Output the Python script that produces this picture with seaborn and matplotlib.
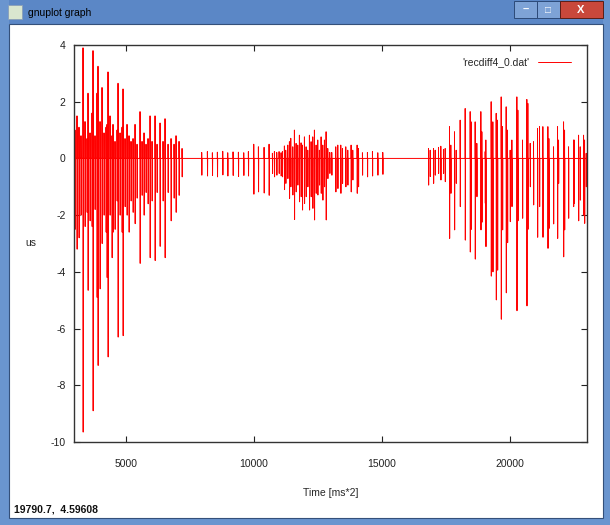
import matplotlib
matplotlib.use("Agg")
import matplotlib.pyplot as plt
from matplotlib.patches import Rectangle
import pandas as pd
import seaborn as sns

# --- spike events: time, positive peak, negative peak ---
burst1_t = [3009, 3087, 3165, 3243, 3322, 3400, 3478, 3517, 3595, 3673, 3712, 3790, 3868, 3907,
            3986, 4064, 4142, 4220, 4259, 4298, 4376, 4454, 4493, 4571, 4650, 4689, 4767, 4845,
            4884, 4962, 5040, 5118, 5196, 5275, 5353, 5431, 5548, 5626, 5704, 5782, 5860, 5939,
            6017, 6134, 6212, 6329, 6446, 6524, 6642, 6759, 6876, 6954, 7071, 7189]
burst1_up = [1.0, 1.5, 1.1, 0.8, 3.9, 1.3, 0.7, 2.3, 0.9, 1.6, 3.8, 0.8, 2.3, 3.25,
             1.3, 2.5, 0.9, 1.1, 1.2, 3.05, 1.5, 0.8, 1.2, 0.6, 1.0, 2.65, 0.9, 1.1,
             2.45, 0.7, 1.2, 0.8, 0.6, 0.7, 1.2, 0.5, 1.65, 0.6, 0.9, 0.5, 0.7, 1.5,
             0.6, 1.5, 0.5, 1.25, 0.6, 1.4, 0.5, 0.7, 0.5, 0.8, 0.6, 0.35]
burst1_dn = [-2.5, -3.2, -2.8, -2.0, -9.65, -2.4, -1.9, -4.65, -2.2, -2.4, -8.9, -1.8, -4.9, -7.3,
             -4.6, -3.0, -2.0, -2.6, -4.2, -7.0, -2.0, -3.5, -2.6, -2.5, -1.5, -6.3, -2.0, -2.6,
             -6.25, -1.7, -2.0, -2.6, -1.5, -1.9, -2.3, -1.4, -3.7, -1.3, -2.0, -1.2, -1.6, -3.5,
             -1.5, -3.6, -1.2, -3.1, -1.5, -3.5, -1.2, -2.2, -1.4, -1.9, -1.3, -0.65]

burst2_t = [7956, 8178, 8373, 8568, 8777, 8972, 9180, 9389, 9597, 9779, 9988, 10170, 10391, 10586,
            10717, 10795, 10886, 10977, 11055, 11107, 11185, 11237, 11316, 11381, 11433, 11511,
            11576, 11641, 11706, 11771, 11836, 11888, 11967, 12032, 12097, 12162, 12227, 12292,
            12357, 12422, 12487, 12552, 12618, 12683, 12748, 12813, 12878, 12956, 13034, 13190,
            13269, 13386, 13451, 13581, 13659, 13789, 13854, 14024, 14076, 14232, 14427, 14623,
            14831, 15026]
burst2_up = [0.21, 0.24, 0.2, 0.22, 0.25, 0.2, 0.23, 0.22, 0.2, 0.24, 0.5, 0.41, 0.39, 0.5,
             0.18, 0.24, 0.21, 0.24, 0.2, 0.24, 0.44, 0.29, 0.47, 0.59, 0.71, 0.41,
             1.0, 0.53, 0.47, 0.82, 0.55, 0.47, 0.76, 0.41, 0.29, 0.82, 0.59, 0.76,
             1.0, 0.47, 0.65, 0.29, 0.76, 0.47, 0.65, 0.94, 0.35, 0.21, 0.21, 0.41,
             0.47, 0.47, 0.35, 0.41, 0.29, 0.47, 0.29, 0.47, 0.35, 0.2, 0.21, 0.24,
             0.2, 0.21]
burst2_dn = [-0.59, -0.62, -0.6, -0.65, -0.58, -0.62, -0.6, -0.64, -0.6, -0.62, -1.26, -1.18, -1.22, -1.3,
             -0.53, -0.65, -0.59, -0.53, -0.62, -0.65, -1.1, -0.88, -0.71, -1.41, -1.0, -1.29,
             -2.15, -1.18, -0.94, -1.53, -1.35, -1.82, -1.59, -1.35, -1.0, -1.82, -1.35, -1.76,
             -2.17, -1.23, -1.29, -0.94, -1.23, -1.47, -1.0, -2.17, -0.71, -0.53, -0.59, -1.18,
             -1.06, -1.23, -0.88, -1.0, -0.94, -1.18, -0.76, -1.23, -1.0, -0.59, -0.65, -0.62,
             -0.59, -0.56]

burst3_t = [16811, 16876, 17006, 17071, 17201, 17292, 17396, 17462, 17631, 17683, 17826, 17891,
            18047, 18243, 18438, 18477, 18633, 18698, 18855, 18894, 19024, 19050, 19258, 19323,
            19454, 19506, 19649, 19701, 19844, 19896, 20000, 20066, 20261, 20300, 20482, 20651,
            20690, 20782, 20912, 21068, 21146, 21276, 21472, 21511, 21693, 21849, 21888, 22084,
            22123, 22279, 22474, 22500, 22670, 22735, 22865, 22904, 22969]
burst3_up = [0.35, 0.29, 0.35, 0.29, 0.39, 0.43, 0.32, 0.35, 1.12, 0.47, 0.94, 0.29,
             1.35, 1.76, 1.65, 1.29, 1.29, 0.53, 1.65, 0.94, 0.24, 0.65, 2.0, 1.29,
             1.59, 1.35, 2.17, 1.12, 1.82, 1.0, 0.29, 0.65, 2.17, 1.7, 0.65, 2.08,
             1.94, 0.53, 0.59, 1.06, 1.12, 1.12, 1.12, 0.7, 0.41, 1.12, 0.65, 1.29,
             1.0, 0.41, 0.65, 0.65, 0.82, 0.41, 0.82, 0.65, 0.18]
burst3_dn = [-0.94, -0.64, -0.88, -0.59, -0.53, -0.76, -0.53, -0.82, -2.82, -1.23, -2.52, -0.88,
             -1.7, -2.88, -3.3, -2.5, -3.55, -1.35, -2.52, -2.25, -1.58, -3.11, -4.15, -4.0,
             -4.99, -3.94, -5.67, -2.52, -4.74, -2.97, -2.23, -1.7, -5.37, -2.2, -2.11, -5.2,
             -2.5, -1.0, -1.64, -2.78, -1.7, -2.78, -3.17, -2.47, -2.31, -2.82, -0.88, -3.47,
             -2.52, -2.11, -1.7, -1.58, -2.2, -1.47, -2.0, -2.29, -1.0]

t_start, t_end = 2970, 23000

# build the gnuplot-like trace: baseline 0, each event jumps up then down
xs, ys = [t_start], [0.0]
for tt, uu, dd in zip(burst1_t + burst2_t + burst3_t,
                      burst1_up + burst2_up + burst3_up,
                      burst1_dn + burst2_dn + burst3_dn):
    xs += [tt, tt, tt + 6, tt + 12]
    ys += [0.0, uu, dd, 0.0]
xs.append(t_end)
ys.append(0.0)
trace = pd.DataFrame({"t": xs, "us": ys})

sns.set_theme(style="white")
plt.rcParams["font.family"] = ["Liberation Sans", "DejaVu Sans"]
plt.rcParams["axes.unicode_minus"] = False

W, H = 610, 525
fig = plt.figure(figsize=(W / 100, H / 100), dpi=100)
fig.patch.set_facecolor("white")


def box(x0, y0, x1, y1, **kw):
    fig.add_artist(Rectangle((x0 / W, 1 - y1 / H), (x1 - x0) / W, (y1 - y0) / H,
                             transform=fig.transFigure, zorder=-5, **kw))


# window chrome
box(0, 0, W, 24, color="#5b87c6", lw=0)
box(0, 0, 9, H, color="#6a95cf", lw=0)
box(603, 0, W, H, color="#6a95cf", lw=0)
box(0, 518, W, H, color="#6a95cf", lw=0)
box(9, 24, 603, 518, facecolor="white", edgecolor="#34507a", lw=0.8)
box(8, 5, 22, 19, facecolor="#d9e6cf", edgecolor="#8a9fb8", lw=0.6)
box(514, 1, 537, 18, facecolor="#7ea3d6", edgecolor="#2d4a78", lw=0.7)
box(537, 1, 560, 18, facecolor="#7ea3d6", edgecolor="#2d4a78", lw=0.7)
box(560, 1, 603, 18, facecolor="#c9483b", edgecolor="#5a1d16", lw=0.7)
fig.text(28 / W, 1 - 13 / H, "gnuplot graph", fontsize=7.5, va="center", color="black")
fig.text(526 / W, 1 - 10 / H, "\u2013", fontsize=8, ha="center", va="center", color="white",
         weight="bold")
fig.text(548 / W, 1 - 10 / H, "\u25a1", fontsize=7, ha="center", va="center", color="white")
fig.text(581 / W, 1 - 10 / H, "X", fontsize=8, ha="center", va="center", color="white",
         weight="bold")
fig.text(14 / W, 1 - 510 / H, "19790.7,  4.59608", fontsize=7.5, va="center", weight="bold",
         color="#111111")

ax = fig.add_axes([74 / W, 1 - 442 / H, (587 - 74) / W, (442 - 45) / H])
ax.set_zorder(5)
ax.patch.set_alpha(0)
sns.lineplot(data=trace, x="t", y="us", sort=False, estimator=None, color="#ff0000",
             lw=0.7, label="'recdiff4_0.dat'", ax=ax)

ax.set_xlim(t_start, t_end)
ax.set_ylim(-10, 4)
ax.set_xticks([5000, 10000, 15000, 20000])
ax.set_yticks([-10, -8, -6, -4, -2, 0, 2, 4])
ax.tick_params(direction="in", length=4, width=0.8, colors="#222222", labelsize=7.5,
               top=True, right=True, bottom=True, left=True)
ax.tick_params(axis="x", pad=12)
ax.tick_params(axis="y", pad=6)
for s in ax.spines.values():
    s.set_color("#333333")
    s.set_linewidth(1.0)
ax.set_xlabel("Time [ms*2]", fontsize=7.5, labelpad=14)
ax.set_ylabel("us", fontsize=7.5, rotation=0, va="center", ha="center")
ax.yaxis.set_label_coords(-0.084, 0.5)
ax.legend(loc="upper right", frameon=False, markerfirst=False, fontsize=7.5,
          handlelength=3.2, borderaxespad=0.4, bbox_to_anchor=(0.985, 0.99))

fig.savefig("out.png", dpi=100)
